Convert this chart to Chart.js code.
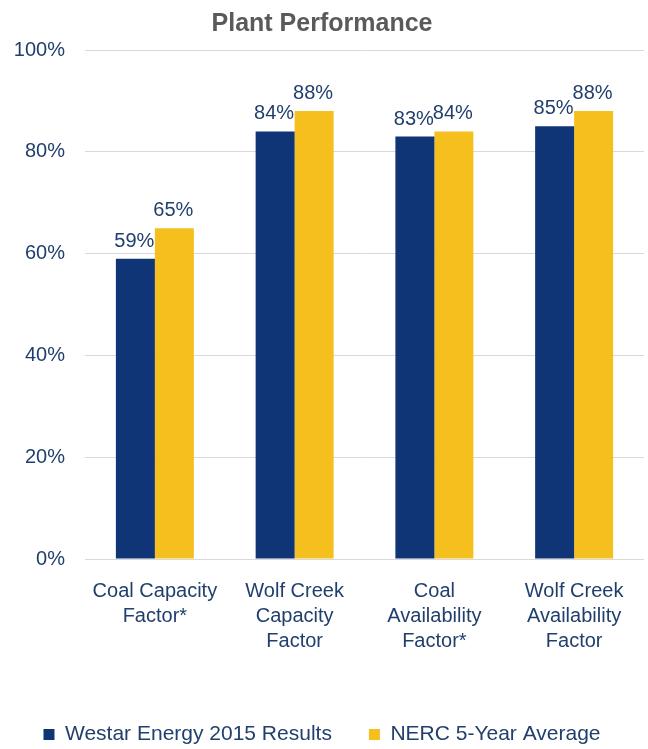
<!DOCTYPE html>
<html>
<head>
<meta charset="utf-8">
<script src="https://cdn.jsdelivr.net/npm/chart.js@4.4.1/dist/chart.umd.min.js"></script>
<style>
  html, body { margin: 0; padding: 0; background: #ffffff; }
  #wrap { width: 648px; height: 749px; position: relative; }
</style>
</head>
<body>
<div id="wrap"><canvas id="c"></canvas></div>
<script>
const categories = [
  ['Coal Capacity', 'Factor*'],
  ['Wolf Creek', 'Capacity', 'Factor'],
  ['Coal', 'Availability', 'Factor*'],
  ['Wolf Creek', 'Availability', 'Factor']
];
const westarResults = [59, 84, 83, 85];
const nercAverage = [65, 88, 84, 88];
const seriesNames = ['Westar Energy 2015 Results', 'NERC 5-Year Average'];
const yTicks = [0, 20, 40, 60, 80, 100];

const FONT = "'Liberation Sans', Arial, Helvetica, sans-serif";
const TEXT = '#213F6D';
const NAVY = '#0F3577';
const GOLD = '#F5BF1E';

const valueLabels = {
  id: 'valueLabels',
  afterDatasetsDraw(chart) {
    const ctx = chart.ctx;
    ctx.save();
    ctx.font = '20px ' + FONT;
    ctx.fillStyle = TEXT;
    ctx.textAlign = 'center';
    ctx.textBaseline = 'alphabetic';
    chart.data.datasets.forEach((ds, i) => {
      const meta = chart.getDatasetMeta(i);
      meta.data.forEach((el, j) => {
        ctx.fillText(ds.data[j] + '%', el.x - 1, el.y - 12);
      });
    });
    ctx.restore();
  }
};

new Chart(document.getElementById('c'), {
  type: 'bar',
  data: {
    labels: categories,
    datasets: [
      { label: seriesNames[0], data: westarResults, backgroundColor: NAVY, borderWidth: 0 },
      { label: seriesNames[1], data: nercAverage, backgroundColor: GOLD, borderWidth: 0 }
    ]
  },
  options: {
    responsive: true,
    maintainAspectRatio: false,
    animation: false,
    layout: { padding: { left: 0, right: 4, top: 0, bottom: -6 } },
    datasets: { bar: { barPercentage: 1.0, categoryPercentage: 0.558 } },
    scales: {
      x: {
        grid: { display: false, drawTicks: false },
        border: { display: false },
        ticks: {
          color: TEXT,
          padding: 20,
          maxRotation: 0,
          autoSkip: false,
          font: { family: FONT, size: 20, lineHeight: 1.25 }
        },
        afterFit(scale) { scale.height = 128; }
      },
      y: {
        min: 0,
        max: 100,
        afterBuildTicks(scale) { scale.ticks = yTicks.map(v => ({ value: v })); },
        grid: { color: '#D9D9D9', lineWidth: 1, drawTicks: false },
        border: { display: false },
        ticks: {
          color: TEXT,
          padding: 20,
          font: { family: FONT, size: 20 },
          callback: v => v + '%'
        },
        afterFit(scale) { scale.width = 85; }
      }
    },
    plugins: {
      title: {
        display: true,
        text: 'Plant Performance',
        color: '#5A5A5A',
        font: { family: FONT, size: 25, weight: 'bold', lineHeight: 1.2 },
        padding: { top: 9, bottom: 11 }
      },
      legend: {
        position: 'bottom',
        labels: {
          color: TEXT,
          boxWidth: 11,
          boxHeight: 11,
          padding: 37,
          font: { family: FONT, size: 21 }
        }
      },
      tooltip: { enabled: false }
    }
  },
  plugins: [valueLabels]
});
</script>
</body>
</html>
